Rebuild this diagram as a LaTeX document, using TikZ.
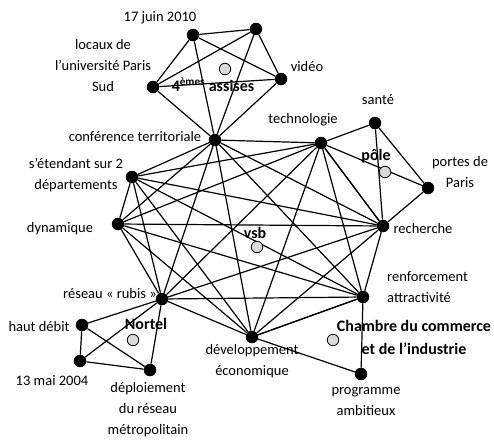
\documentclass[tikz,border=0pt]{standalone}
\usepackage{fontspec}
\setmainfont{Carlito}
\usetikzlibrary{backgrounds}
\definecolor{hubgray}{RGB}{217,217,217}
% join every pair of the named nodes in #1
\newcommand\cliquelinks[1]{%
  \foreach \a [count=\i] in {#1}{%
    \foreach \b [count=\j] in {#1}{%
      \ifnum\j>\i \draw[link] (\a) -- (\b);\fi
    }%
  }%
}
\begin{document}
\begin{tikzpicture}[x=1pt,y=-1pt,
  dot/.style={circle,fill=black,minimum size=12.5pt,inner sep=0pt},
  hub/.style={circle,draw=black,line width=0.8pt,fill=hubgray,minimum size=11.5pt,inner sep=0pt},
  lbl/.style={inner sep=0pt,align=center,font=\fontsize{14.5}{21}\selectfont},
  title/.style={inner sep=0pt,align=center,font=\fontsize{16}{23}\selectfont\bfseries},
  link/.style={line width=1.2pt}]
\useasboundingbox (0,0) rectangle (494,439);

% --- concept points ---
\node[dot] (juin)    at (193,35)  {};
\node[dot] (topr)    at (256,29)  {};
\node[dot] (video)   at (281,79)  {};
\node[dot] (locaux)  at (153,87)  {};
\node[dot] (conf)    at (215,140) {};
\node[dot] (setend)  at (132,177) {};
\node[dot] (dyn)     at (118,224) {};
\node[dot] (rubis)   at (162,299) {};
\node[dot] (dev)     at (252,337) {};
\node[dot] (renf)    at (363,297) {};
\node[dot] (rech)    at (383,226) {};
\node[dot] (tech)    at (321,143) {};
\node[dot] (sante)   at (375,123) {};
\node[dot] (portes)  at (428,188) {};
\node[dot] (haut)    at (82,325)  {};
\node[dot] (mai)     at (80,361)  {};
\node[dot] (deploi)  at (150,370) {};
\node[dot] (prog)    at (361,374) {};

% --- group centres ---
\node[hub] (hassises) at (225,69)  {};
\node[hub] (hpole)    at (385,172) {};
\node[hub] (hvsb)     at (257,247) {};
\node[hub] (hnortel)  at (133,340) {};
\node[hub] (hcci)     at (333,340) {};

% --- links ---
\begin{scope}[on background layer]
  \cliquelinks{juin,topr,video,locaux,conf}
  \cliquelinks{tech,sante,portes,rech}
  \cliquelinks{conf,setend,dyn,rubis,dev,renf,rech,tech}
  \cliquelinks{rubis,haut,mai,deploi}
  \cliquelinks{renf,dev,prog}
\end{scope}

% --- labels ---
\node[lbl] (t17)     at (160,18)  {17 juin 2010};
\node[lbl] (tlocaux) at (103,66)  {locaux de\\l’université Paris\\Sud};
\node[lbl] (tvideo)  at (307,67)  {vidéo};
\node[lbl] (tconf)   at (135,137) {conférence territoriale};
\node[lbl] (ttech)   at (303,120) {technologie};
\node[lbl] (tsante)  at (378,100) {santé};
\node[lbl] (tportes) at (460,172) {portes de\\Paris};
\node[lbl] (trech)   at (423,229) {recherche};
\node[lbl] (tsetend) at (76,175)  {s’étendant sur 2\\départements};
\node[lbl] (tdyn)    at (60,229)  {dynamique};
\node[lbl] (trubis)  at (110,294) {réseau « rubis »};
\node[lbl] (thaut)   at (39,327)  {haut débit};
\node[lbl] (tmai)    at (52,381)  {13 mai 2004};
\node[lbl] (tdeploi) at (148,410) {déploiement\\du réseau\\métropolitain};
\node[lbl] (tdev)    at (252,361) {développement\\économique};
\node[lbl,anchor=west,align=left] (trenf) at (387,287) {renforcement\\attractivité};
\node[lbl] (tprog)   at (366,402) {programme\\ambitieux};

\node[title] (tassises) at (213,85)  {4\textsuperscript{èmes} assises};
\node[title] (tpole)    at (376,156) {pôle};
\node[title] (tvsb)     at (255,233) {vsb};
\node[title] (tnortel)  at (146,324) {Nortel};
\node[title] (tcci)     at (414,337) {Chambre du commerce\\et de l’industrie};
\end{tikzpicture}
\end{document}
